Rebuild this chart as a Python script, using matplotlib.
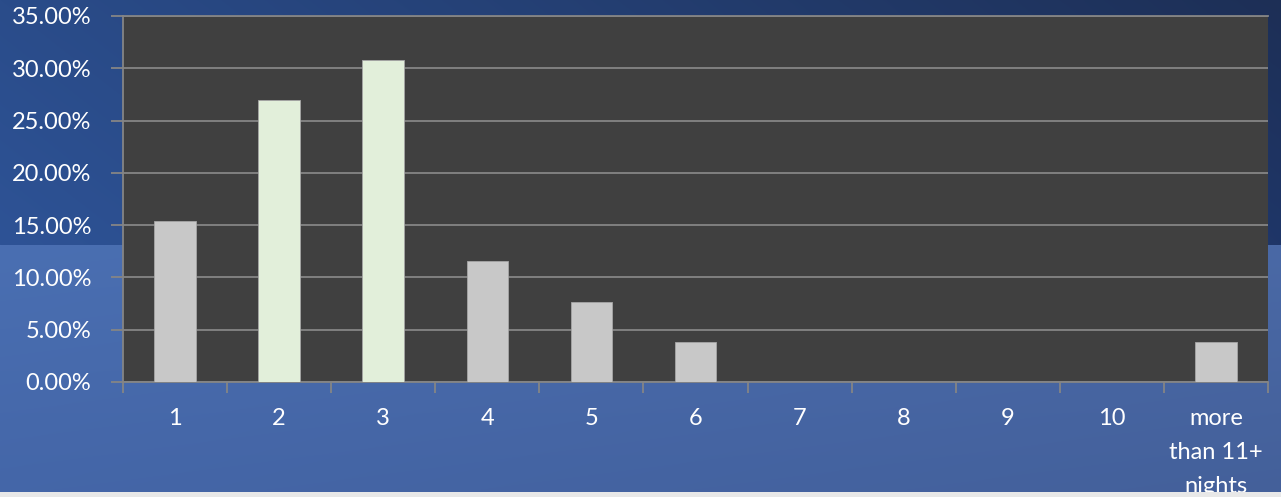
import numpy as np
import matplotlib.pyplot as plt
from matplotlib.ticker import FuncFormatter, MultipleLocator

plt.rcParams['font.family'] = ['Lato', 'DejaVu Sans']

# length of stay, share of guests (%)
nights = ['1', '2', '3', '4', '5', '6', '7', '8', '9', '10',
          'more\nthan 11+\nnights']
shares = [15.38, 26.92, 30.77, 11.54, 7.69, 3.85, 0, 0, 0, 0, 3.85]
highlight = ['2', '3']

W, H = 1281, 497
fig = plt.figure(figsize=(W / 100, H / 100), dpi=100)


def blend(c00, c01, c10, c11, rows, cols):
    # bilinear colour ramp between four corner colours
    c = [np.array([int(h[i:i + 2], 16) for i in (1, 3, 5)]) / 255
         for h in (c00, c01, c10, c11)]
    ty = np.linspace(0, 1, rows)[:, None, None]
    tx = np.linspace(0, 1, cols)[None, :, None]
    top = c[0] * (1 - tx) + c[1] * tx
    bot = c[2] * (1 - tx) + c[3] * tx
    return top * (1 - ty) + bot * ty


split = 245
upper = blend('#2a4c8a', '#1d2f56', '#2e5396', '#1f3668', split, W)
lower = blend('#4a6fb2', '#4a69a6', '#4466a8', '#44609a', H - split, W)
bg = np.concatenate([upper, lower], axis=0)
bg[492:, :, :] = 0.91

bg_ax = fig.add_axes([0, 0, 1, 1], zorder=-1)
bg_ax.imshow(bg, aspect='auto', interpolation='bilinear')
bg_ax.axis('off')

left, right, top, bottom = 123, 1268, 16, 382
ax = fig.add_axes([left / W, 1 - bottom / H, (right - left) / W,
                   (bottom - top) / H])
ax.set_facecolor('#404040')

x = np.arange(len(nights))
colors = ['#e2efda' if n in highlight else '#c8c8c8' for n in nights]
ax.bar(x, shares, width=0.4, color=colors, edgecolor='#a6a6a6',
       linewidth=0.6, zorder=3)

ax.set_xlim(-0.5, len(nights) - 0.5)
ax.set_ylim(0, 35)
ax.yaxis.set_major_locator(MultipleLocator(5))
ax.yaxis.set_major_formatter(FuncFormatter(lambda v, p: f'{v:.2f}%'))
ax.grid(axis='y', color='#858585', linewidth=1.3, zorder=1)
ax.set_axisbelow(True)

ax.set_xticks(x)
ax.set_xticklabels(nights, linespacing=1.75, va='top')
ax.set_xticks(np.arange(len(nights) + 1) - 0.5, minor=True)
ax.tick_params(axis='x', which='major', length=0, pad=19,
               labelcolor='white', labelsize=17)
ax.tick_params(axis='x', which='minor', length=8, color='#858585', width=1.3)
ax.tick_params(axis='y', length=9, color='#858585', width=1.3, pad=14,
               labelcolor='white', labelsize=17)

for side in ('left', 'bottom', 'top'):
    ax.spines[side].set_color('#858585')
    ax.spines[side].set_linewidth(1.3)
ax.spines['right'].set_visible(False)

# light strip along the bottom edge
strip = fig.add_axes([0, 0, 1, 5 / H], zorder=5)
strip.set_facecolor('#e8e8e8')
strip.set_xticks([])
strip.set_yticks([])
for s in strip.spines.values():
    s.set_visible(False)

fig.savefig('out.png', dpi=100)
